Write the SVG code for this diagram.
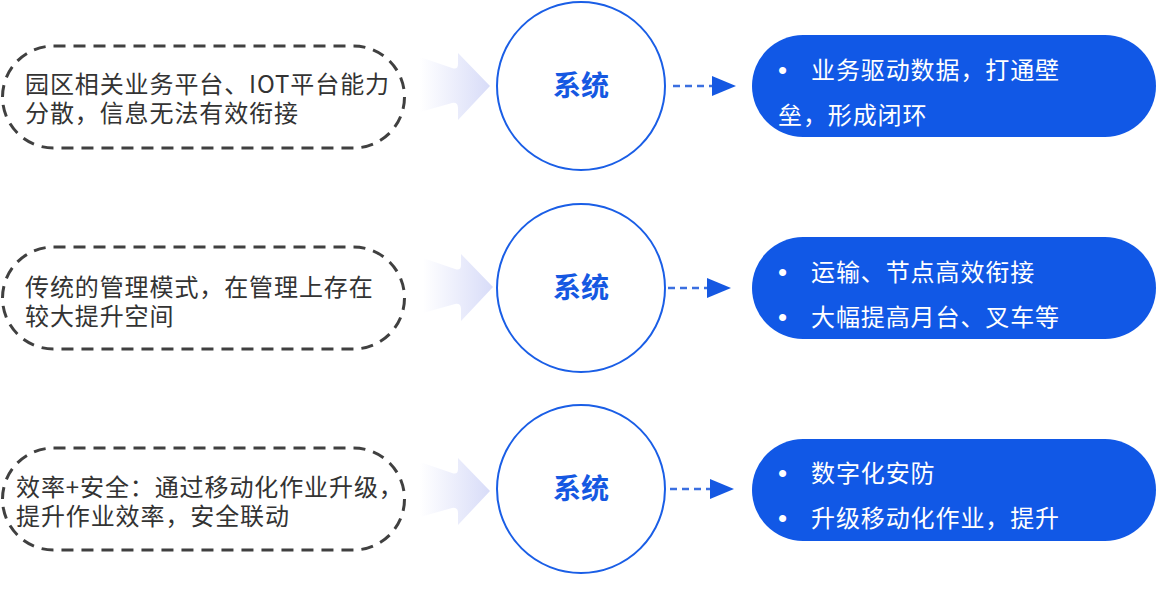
<svg xmlns="http://www.w3.org/2000/svg" width="1156" height="592" viewBox="0 0 1156 592">
<defs>
<style>
.src{fill:#fff;stroke:#404040;stroke-width:3;stroke-dasharray:12 8}
.srct{font-family:"Noto Sans CJK SC","Noto Sans",sans-serif;font-size:24px;fill:#333;letter-spacing:0.9px}
.sys{fill:#fff;stroke:#1a5ee6;stroke-width:2}
.syst{font-family:"Noto Sans CJK SC","Noto Sans",sans-serif;font-size:28px;font-weight:bold;fill:#1558e2;text-anchor:middle}
.res{fill:#1158e6}
.rest{font-family:"Noto Sans CJK SC","Noto Sans",sans-serif;font-size:24px;fill:#fff;letter-spacing:0.9px}
.bul{font-family:"Liberation Sans",Arial,sans-serif;font-size:26px;fill:#fff}
.dash{stroke:#3b6fe0;stroke-width:2.5;stroke-dasharray:7 5;fill:none}
.tri{fill:#1558e2}
.blk{fill:url(#fade)}
</style>
<linearGradient id="fade" x1="0" y1="0" x2="1" y2="0">
<stop offset="0" stop-color="#d8dcf8" stop-opacity="0"/>
<stop offset="1" stop-color="#d8dcf8"/>
</linearGradient>
<path id="bigarrow" d="M0,-28 L32,-17 Q38,-15 38,-21 L38,-32 L70,1 L38,35 L38,23 Q38,17 32,18 L0,27 Z"/>
</defs>

<g id="source1">
<rect class="src" x="2.5" y="46" width="402" height="102" rx="51"/>
<text class="srct" x="25" y="93">园区相关业务平台、IOT平台能力<tspan x="25" dy="29">分散，信息无法有效衔接</tspan></text>
</g>
<g id="source2">
<rect class="src" x="2.5" y="247" width="402" height="102" rx="51"/>
<text class="srct" x="25" y="296">传统的管理模式，在管理上存在<tspan x="25" dy="29">较大提升空间</tspan></text>
</g>
<g id="source3">
<rect class="src" x="2.5" y="448" width="402" height="102" rx="51"/>
<text class="srct" x="16" y="496">效率+安全：通过移动化作业升级，<tspan x="16" dy="29">提升作业效率，安全联动</tspan></text>
</g>

<g id="system1">
<circle class="sys" cx="581" cy="86" r="84"/>
<text class="syst" x="581" y="96">系统</text>
</g>
<g id="system2">
<circle class="sys" cx="581" cy="288" r="84"/>
<text class="syst" x="581" y="298">系统</text>
</g>
<g id="system3">
<circle class="sys" cx="581" cy="489" r="84"/>
<text class="syst" x="581" y="499">系统</text>
</g>

<g id="result1">
<rect class="res" x="752" y="35" width="404" height="102" rx="51"/>
<text class="bul" x="778" y="79">•</text>
<text class="rest" x="811" y="79">业务驱动数据，打通壁</text>
<text class="rest" x="778" y="124">垒，形成闭环</text>
</g>
<g id="result2">
<rect class="res" x="752" y="237" width="404" height="102" rx="51"/>
<text class="bul" x="778" y="281">•</text>
<text class="rest" x="811" y="281">运输、节点高效衔接</text>
<text class="bul" x="778" y="326">•</text>
<text class="rest" x="811" y="326">大幅提高月台、叉车等</text>
</g>
<g id="result3">
<rect class="res" x="752" y="439" width="404" height="102" rx="51"/>
<text class="bul" x="778" y="482">•</text>
<text class="rest" x="811" y="482">数字化安防</text>
<text class="bul" x="778" y="527">•</text>
<text class="rest" x="811" y="527">升级移动化作业，提升</text>
</g>

<g id="connectors">
<use href="#bigarrow" class="blk" x="420" y="85"/>
<use href="#bigarrow" class="blk" x="423" y="286"/>
<use href="#bigarrow" class="blk" x="420" y="490"/>
<line class="dash" x1="673" y1="86" x2="712" y2="86"/>
<polygon class="tri" points="712,76 736,86 712,96"/>
<line class="dash" x1="668" y1="288" x2="707" y2="288"/>
<polygon class="tri" points="707,278 731,288 707,298"/>
<line class="dash" x1="670" y1="489" x2="710" y2="489"/>
<polygon class="tri" points="710,479 734,489 710,499"/>
</g>
</svg>
